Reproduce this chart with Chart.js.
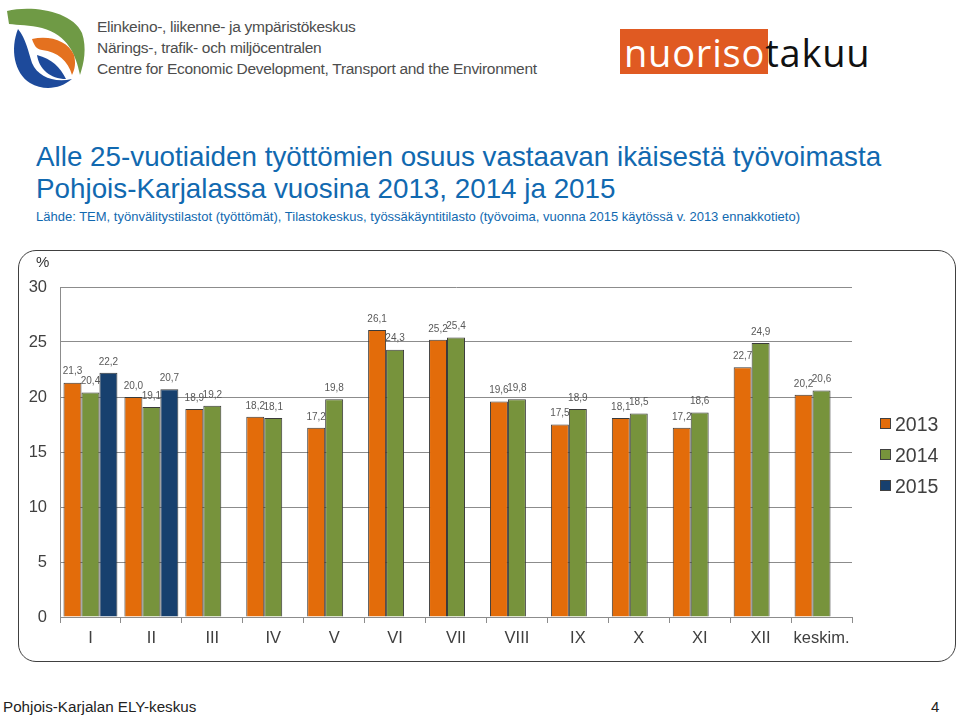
<!DOCTYPE html>
<html>
<head>
<meta charset="utf-8">
<script src="https://cdn.jsdelivr.net/npm/chart.js@4"></script>
<style>
  body { margin:0; width:960px; height:716px; background:#fff; position:relative; overflow:hidden;
         font-family:"Liberation Sans", Arial, sans-serif; }
  .abs { position:absolute; white-space:nowrap; }
  #ely { left:97px; top:16px; font-size:15.5px; line-height:21px; color:#4d4d4d; letter-spacing:-0.3px; }
  #title { left:36px; top:141px; font-size:27.8px; line-height:32px; color:#1169b0; }
  #sub { left:36px; top:209px; font-size:13px; color:#1169b0; }
  #box { left:18px; top:250px; width:936px; height:410px; border:1.5px solid #404040; border-radius:18px; }
  #wrap { left:0; top:250px; width:960px; height:410px; }
  #pct { left:36px; top:253px; font-size:15px; color:#333; }
  .leg { left:880px; font-size:19.5px; color:#404040; }
  .leg i { display:inline-block; width:9px; height:9px; border:1px solid #404040; margin-right:4px; vertical-align:2px; }
  #foot { left:3px; top:698px; font-size:15.2px; color:#222; }
  #page { left:931px; top:698px; font-size:15px; color:#222; }
  #nt1 { left:620px; top:29px; width:148px; height:45px; background:#e05a22; }
  #nt { left:624px; top:26px; font-family:"Open Sans", sans-serif; font-size:38px; letter-spacing:0.8px; }
</style>
</head>
<body>
<svg class="abs" style="left:2px;top:3px" width="88" height="88" viewBox="0 0 88 88">
  <path d="M5,8 C30,2 70,8 80,30 C85,45 82,60 78,72 C74,52 66,32 40,25 C28,22 16,22 7,21 Z" fill="#6f9a45"/>
  <path d="M16,26 C8,46 12,70 28,80 C42,88 58,86 70,76 C52,80 36,74 30,60 C26,48 24,36 16,26 Z" fill="#1d4a9b"/>
  <path d="M30,36 C48,32 66,38 72,52 C74,60 73,66 70,72 C66,58 56,49 40,47 C34,46 32,42 30,36 Z" fill="#e4711f"/>
  <path d="M35,52 C37,66 48,76 64,76 C58,64 50,56 35,52 Z" fill="#1d4a9b"/>
</svg>
<div id="ely" class="abs">Elinkeino-, liikenne- ja ympäristökeskus<br>Närings-, trafik- och miljöcentralen<br>Centre for Economic Development, Transport and the Environment</div>
<div id="nt1" class="abs"></div>
<div id="nt" class="abs"><span style="color:#fff">nuoriso</span><span style="color:#111">takuu</span></div>
<div id="title" class="abs">Alle 25-vuotiaiden työttömien osuus vastaavan ikäisestä työvoimasta<br>Pohjois-Karjalassa vuosina 2013, 2014 ja 2015</div>
<div id="sub" class="abs">Lähde: TEM, työnvälitystilastot (työttömät), Tilastokeskus, työssäkäyntitilasto (työvoima, vuonna 2015 käytössä v. 2013 ennakkotieto)</div>
<div id="box" class="abs"></div>
<div id="wrap" class="abs"><canvas id="myChart" width="960" height="410"></canvas></div>
<div id="pct" class="abs">%</div>
<div class="abs leg" style="top:413px"><i style="background:#e36c0a"></i>2013</div>
<div class="abs leg" style="top:444px"><i style="background:#77933c"></i>2014</div>
<div class="abs leg" style="top:475px"><i style="background:#17406e"></i>2015</div>
<div id="foot" class="abs">Pohjois-Karjalan ELY-keskus</div>
<div id="page" class="abs">4</div>
<script>
const months = ['I','II','III','IV','V','VI','VII','VIII','IX','X','XI','XII','keskim.']
const y2013 = [21.3, 20.0, 18.9, 18.2, 17.2, 26.1, 25.2, 19.6, 17.5, 18.1, 17.2, 22.7, 20.2]
const y2014 = [20.4, 19.1, 19.2, 18.1, 19.8, 24.3, 25.4, 19.8, 18.9, 18.5, 18.6, 24.9, 20.6]
const y2015 = [22.2, 20.7, null, null, null, null, null, null, null, null, null, null, null]
const yTicks = [0, 5, 10, 15, 20, 25, 30]

const valueLabels = {
  id: 'valueLabels',
  afterDatasetsDraw(chart){
    const ctx = chart.ctx
    ctx.save()
    ctx.font = '10px "Liberation Sans", Arial, sans-serif'
    ctx.fillStyle = '#595959'
    ctx.textAlign = 'center'
    ctx.textBaseline = 'bottom'
    chart.data.datasets.forEach((ds, i) => {
      chart.getDatasetMeta(i).data.forEach((bar, j) => {
        const v = ds.data[j]
        if (v == null) return
        ctx.fillText(v.toFixed(1).replace('.', ','), bar.x, bar.y - 6)
      })
    })
    ctx.restore()
  }
}

chartIt()
function chartIt(){
  const ctx = document.getElementById('myChart').getContext('2d')
  const mk = (label, data, color) => ({
    label, data, backgroundColor: color, borderColor: '#3a3a3a', borderWidth: 1,
    categoryPercentage: 0.885, barPercentage: 1
  })
  new Chart(ctx, {
    type: 'bar',
    data: {
      labels: months,
      datasets: [
        mk('2013', y2013, '#e36c0a'),
        mk('2014', y2014, '#77933c'),
        mk('2015', y2015, '#17406e')
      ]
    },
    options: {
      responsive: false,
      animation: false,
      layout: { padding: { top: 37, right: 108, left: 0, bottom: 0 } },
      plugins: { legend: { display: false }, tooltip: { enabled: false } },
      scales: {
        x: {
          grid: { drawOnChartArea: false, drawTicks: true, tickLength: 6, color: '#8c8c8c', offset: true },
          border: { color: '#8c8c8c' },
          ticks: { color: '#404040', font: { size: 16.5, family: '"Liberation Sans", Arial' }, padding: 6,
                   maxRotation: 0, minRotation: 0, autoSkip: false },
          afterFit(s){ s.height = 43 }
        },
        y: {
          min: 0, max: 30,
          afterBuildTicks(s){ s.ticks = yTicks.map(v => ({ value: v })) },
          grid: { color: '#8c8c8c', drawTicks: false },
          border: { color: '#8c8c8c' },
          ticks: { color: '#404040', font: { size: 16.5, family: '"Liberation Sans", Arial' }, padding: 13 },
          afterFit(s){ s.width = 60 }
        }
      }
    },
    plugins: [valueLabels]
  })
}
</script>
</body>
</html>
